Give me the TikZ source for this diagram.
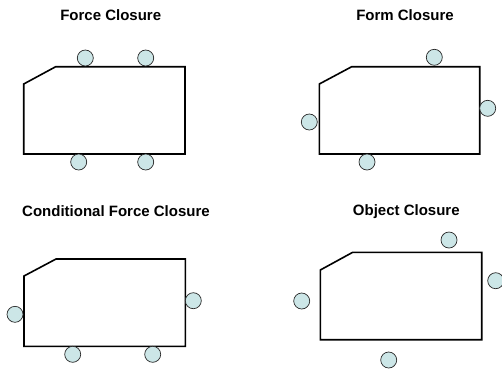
\documentclass[tikz,border=0pt]{standalone}
\usepackage{fontspec}
\setmainfont{Liberation Sans}
\definecolor{contactfill}{RGB}{204,230,231}
\definecolor{contactline}{RGB}{40,40,40}
\tikzset{
  contact/.style={circle, draw=contactline, fill=contactfill, line width=0.7pt, minimum size=16pt, inner sep=0pt},
  objshape/.style={draw=black, line width=1.6pt, line join=miter},
  paneltitle/.style={font=\fontsize{15}{18}\selectfont\bfseries, inner sep=0pt}
}
\begin{document}
\begin{tikzpicture}[x=1pt,y=-1pt]
\useasboundingbox (0,0) rectangle (502,373);
% Titles
\node[paneltitle] (t1) at (110.7,15) {Force Closure};
\node[paneltitle] (t2) at (405,15) {Form Closure};
\node[paneltitle] (t3) at (116,211.3) {Conditional Force Closure};
\node[paneltitle] (t4) at (406.3,211.3) {Object Closure};
% Panel 1
\draw[objshape] (23.7,84) -- (55.7,66.7) -- (185,66.7) -- (185,154) -- (23.7,154) -- cycle;
\node[contact] (a1) at (85.3,58) {};
\node[contact] (a2) at (145.7,58) {};
\node[contact] (a3) at (78.7,162) {};
\node[contact] (a4) at (145.7,162) {};
% Panel 2
\draw[objshape] (319.3,84) -- (351.7,66.7) -- (479.7,66.7) -- (479.7,154) -- (319.3,154) -- cycle;
\node[contact] (b1) at (434.3,57.3) {};
\node[contact] (b2) at (487.7,108.3) {};
\node[contact] (b3) at (309.3,122) {};
\node[contact] (b4) at (367,162) {};
% Panel 3
\draw[objshape] (24,276) -- (56,259) -- (185.3,259) -- (185.3,346.3) -- (24,346.3) -- cycle;
\node[contact] (c1) at (15,314.3) {};
\node[contact] (c2) at (193.3,300.7) {};
\node[contact] (c3) at (72.7,354.3) {};
\node[contact] (c4) at (152.7,354.3) {};
% Panel 4
\draw[objshape] (320.3,270) -- (352.7,252.3) -- (481.7,252.3) -- (481.7,339.7) -- (320.3,339.7) -- cycle;
\node[contact] (d1) at (449,240) {};
\node[contact] (d2) at (495.7,280.7) {};
\node[contact] (d3) at (301.7,301) {};
\node[contact] (d4) at (388.7,360) {};
\end{tikzpicture}
\end{document}
